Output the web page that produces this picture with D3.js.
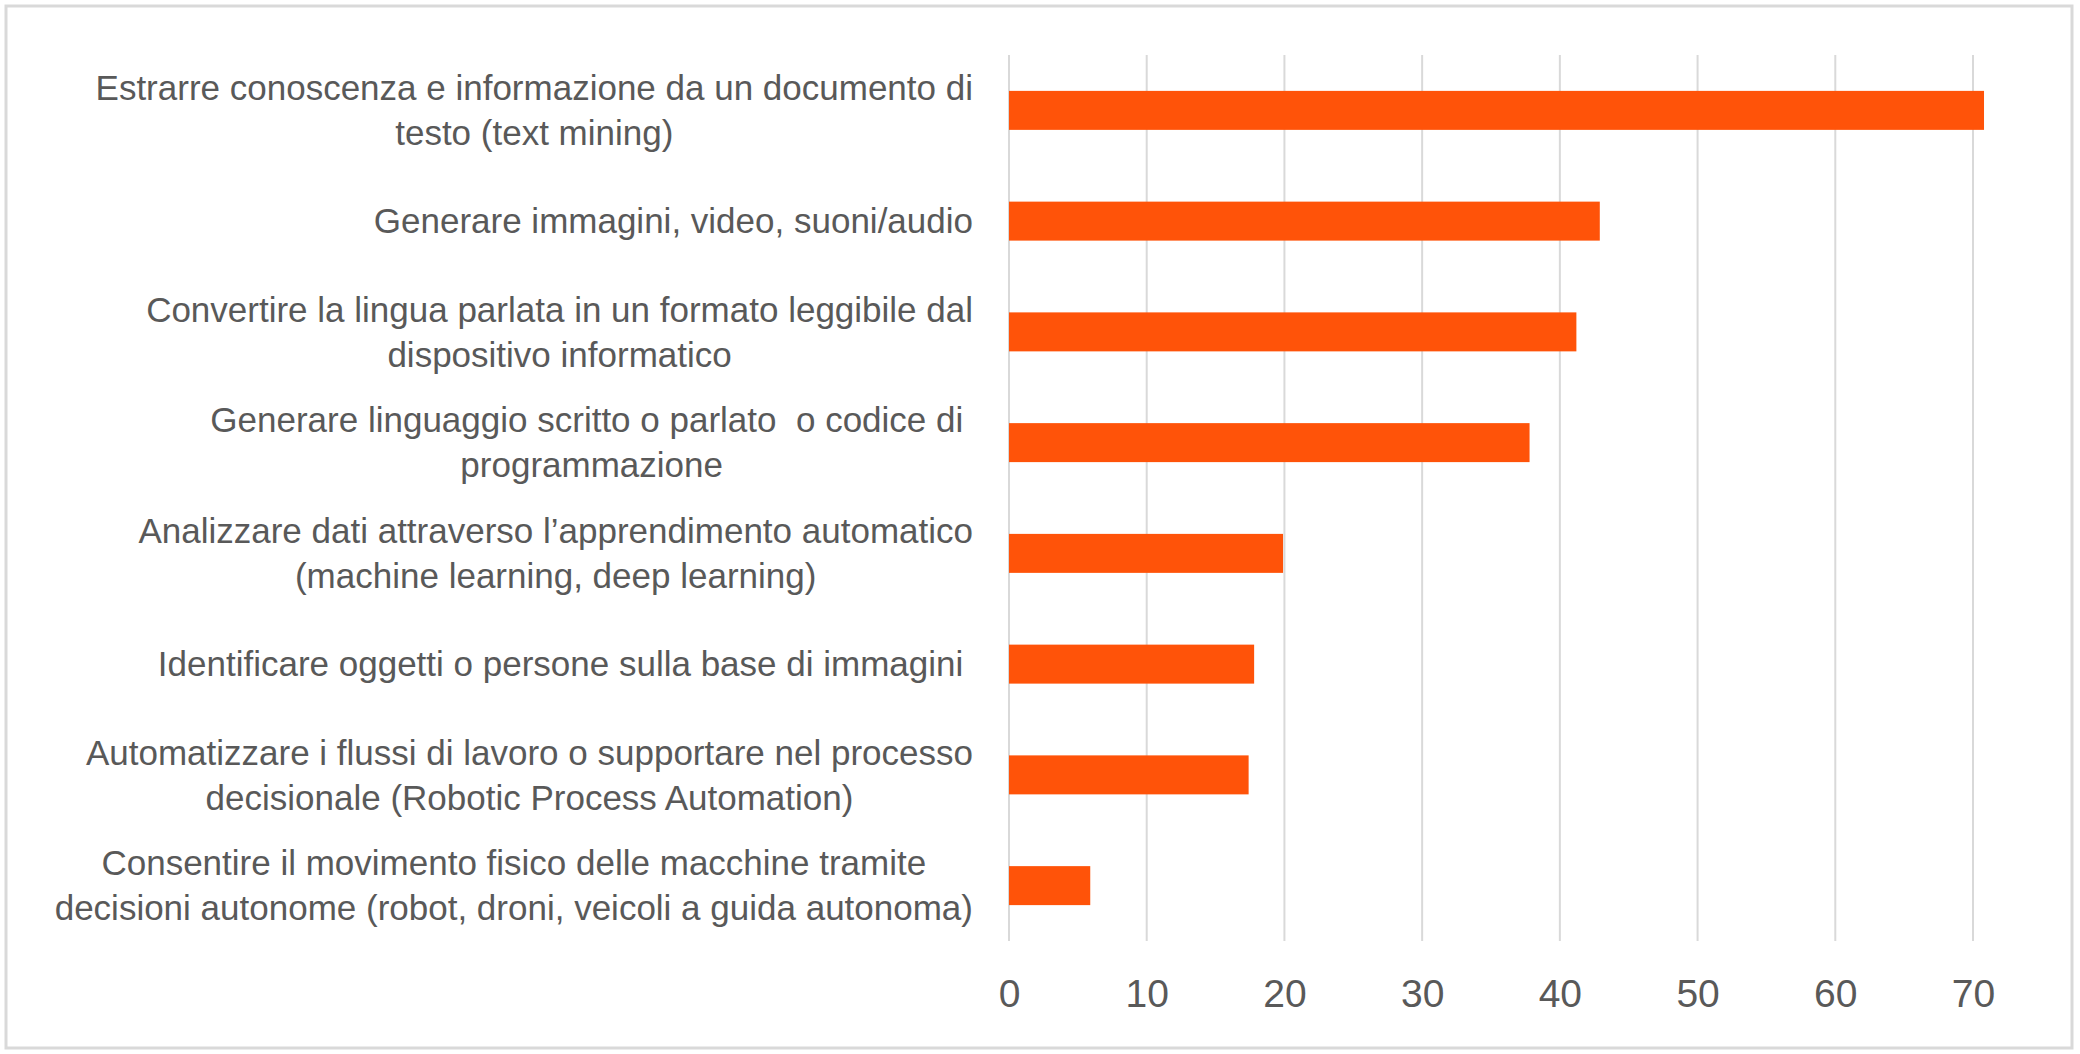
<!DOCTYPE html>
<html>
<head>
<meta charset="utf-8">
<script src="https://cdn.jsdelivr.net/npm/d3@7"></script>
<style>
  body { margin: 0; background: #fff; }
  text { font-family: "Liberation Sans", Arial, sans-serif; fill: #595959; }
</style>
</head>
<body>
<script>
// categorie (già spezzate su più righe come nell'originale)
const categories = [
    ["Estrarre conoscenza e informazione da un documento di", "testo (text mining)"],
    ["Generare immagini, video, suoni/audio"],
    ["Convertire la lingua parlata in un formato leggibile dal", "dispositivo informatico"],
    ["Generare linguaggio scritto o parlato  o codice di ", "programmazione"],
    ["Analizzare dati attraverso l’apprendimento automatico", "(machine learning, deep learning)"],
    ["Identificare oggetti o persone sulla base di immagini "],
    ["Automatizzare i flussi di lavoro o supportare nel processo", "decisionale (Robotic Process Automation)"],
    ["Consentire il movimento fisico delle macchine tramite", "decisioni autonome (robot, droni, veicoli a guida autonoma)"]
];
const values = [70.8, 42.9, 41.2, 37.8, 19.9, 17.8, 17.4, 5.9];
const tickValues = [0, 10, 20, 30, 40, 50, 60, 70];

const width = 2080, height = 1054;
const plot = { left: 1009, right: 1973, top: 55, bottom: 941 };

const svg = d3.select("body")
    .append("svg")
    .attr("width", width)
    .attr("height", height);

// cornice esterna
svg.append("rect")
    .attr("x", 6).attr("y", 6)
    .attr("width", 2066).attr("height", 1042)
    .attr("fill", "#fff")
    .attr("stroke", "#d9d9d9")
    .attr("stroke-width", 3);

const x = d3.scaleLinear()
    .domain([0, 70])
    .range([plot.left, plot.right]);

const y = d3.scaleBand()
    .domain(d3.range(categories.length))
    .range([plot.top, plot.bottom])
    .paddingInner(0.648)
    .paddingOuter(0.324);

// griglia verticale
svg.append("g")
    .selectAll("line")
    .data(tickValues)
    .enter().append("line")
    .attr("x1", d => x(d)).attr("x2", d => x(d))
    .attr("y1", plot.top).attr("y2", plot.bottom)
    .attr("stroke", "#d9d9d9")
    .attr("stroke-width", 2);

// asse x
const xAxis = svg.append("g")
    .attr("transform", `translate(0,${plot.bottom})`)
    .call(d3.axisBottom(x).tickValues(tickValues).tickSize(0).tickPadding(38));
xAxis.select(".domain").remove();
xAxis.selectAll("text")
    .style("font-family", "'Liberation Sans', Arial, sans-serif")
    .attr("font-size", 39)
    .attr("fill", "#595959");

// barre
svg.append("g")
    .selectAll("rect")
    .data(values)
    .enter().append("rect")
    .attr("x", x(0))
    .attr("y", (d, i) => y(i))
    .attr("width", d => x(d) - x(0))
    .attr("height", y.bandwidth())
    .attr("fill", "#ff5309");

// etichette delle categorie, righe centrate tra loro, blocco allineato a destra
const labelRight = 973;
const lineH = 45;
const lab = svg.append("g")
    .selectAll("g")
    .data(categories)
    .enter().append("g");

lab.each(function(lines, i) {
    const g = d3.select(this);
    const cy = y(i) + y.bandwidth() / 2;
    const t = g.selectAll("text")
        .data(lines)
        .enter().append("text")
        .attr("font-size", 35)
        .style("white-space", "pre")
        .attr("text-anchor", "middle")
        .attr("dy", "0.35em")
        .attr("y", (d, k) => cy + (k - (lines.length - 1) / 2) * lineH)
        .text(d => d);
    let maxW = 0;
    t.each(function() { maxW = Math.max(maxW, this.getComputedTextLength()); });
    t.attr("x", labelRight - maxW / 2);
});
</script>
</body>
</html>
